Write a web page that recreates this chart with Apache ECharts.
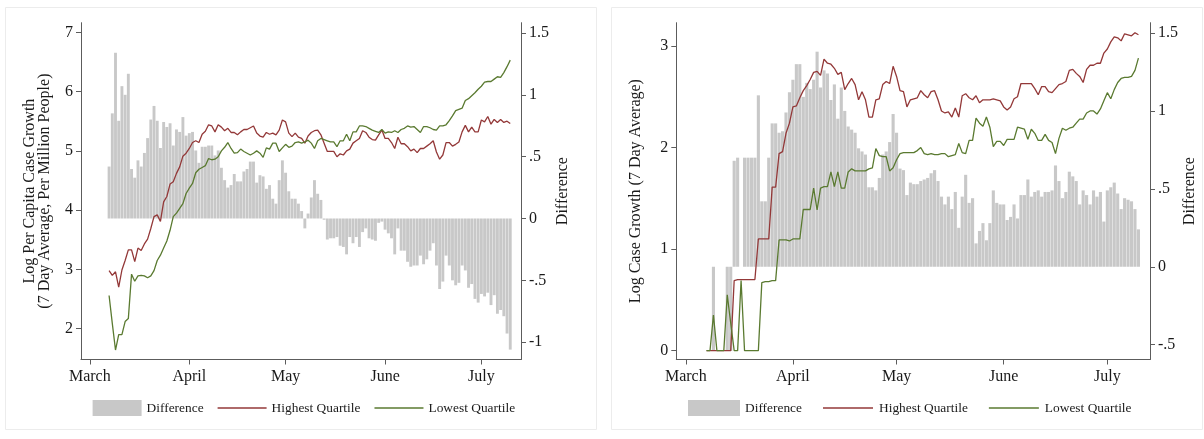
<!DOCTYPE html>
<html>
<head>
<meta charset="utf-8">
<title>Case growth by quartile</title>
<script src="https://cdn.jsdelivr.net/npm/echarts@6/dist/echarts.min.js"></script>
<style>
  html, body { margin: 0; padding: 0; background: #ffffff; }
  #chart { width: 1204px; height: 439px; }
</style>
</head>
<body>
<div id="chart"></div>
<script>
// Daily series, one value per day starting on firstDay
const firstDay = '2020-03-07';
const monthTicks = ['2020-03-01', '2020-04-01', '2020-05-01', '2020-06-01', '2020-07-01'];
const monthLabels = ['March', 'April', 'May', 'June', 'July'];

// Left panel: log per capita case growth (7 day average, per million people)
const perCapitaHighest = [
  2.98, 2.90, 2.96, 2.70, 2.99, 3.15, 3.33, 3.33, 3.13, 3.36, 3.32, 3.43, 3.51, 3.69, 3.89, 3.92, 3.81,
  4.14, 4.23, 4.44, 4.48, 4.62, 4.73, 4.91, 4.96, 5.04, 5.14, 5.17, 5.14, 5.28, 5.33, 5.44, 5.42,
  5.32, 5.44, 5.40, 5.34, 5.38, 5.31, 5.31, 5.27, 5.32, 5.36, 5.36, 5.39, 5.42, 5.30, 5.25, 5.23, 5.31,
  5.28, 5.30, 5.27, 5.35, 5.52, 5.49, 5.30, 5.24, 5.30, 5.23, 5.21, 5.13, 5.25, 5.31, 5.34, 5.35, 5.27,
  5.13, 4.99, 4.99,
  4.99, 4.90, 4.95, 4.93, 5.00, 5.03, 5.13, 5.17, 5.21, 5.34, 5.31, 5.23, 5.19, 5.18, 5.27, 5.35, 5.21,
  5.21, 5.14, 5.04, 5.23, 5.12, 5.12, 5.07, 5.00, 5.03, 4.97, 5.04, 5.04, 5.08, 5.12, 5.17, 4.98, 4.86,
  4.93, 5.14, 5.14, 5.08,
  5.11, 5.15, 5.32, 5.43, 5.32, 5.40, 5.32, 5.32, 5.52, 5.49, 5.58, 5.45, 5.53, 5.48, 5.53, 5.48, 5.50, 5.46
];
const perCapitaLowest = [
  2.56, 2.09, 1.64, 1.90, 1.90, 2.12, 2.17, 2.92, 2.80, 2.89, 2.90, 2.89, 2.86, 2.89, 2.98, 3.15, 3.24,
  3.36, 3.48, 3.66, 3.89, 3.95, 4.03, 4.11, 4.28, 4.37, 4.45, 4.63, 4.69, 4.72, 4.75, 4.87, 4.85,
  4.86, 4.90, 5.00, 5.06, 5.14, 5.04, 4.96, 4.97, 5.03, 4.99, 4.96, 4.93, 4.96, 5.00, 4.96, 4.89, 5.05,
  5.03, 5.13, 5.13, 4.99, 5.05, 5.11, 5.06, 5.08, 5.14, 5.15, 5.13, 5.15, 5.18, 5.13, 5.04, 5.17, 5.21,
  5.19, 5.17, 5.15,
  5.15, 5.07, 5.17, 5.17, 5.28, 5.17, 5.32, 5.32, 5.42, 5.42, 5.41, 5.38, 5.35, 5.33, 5.31, 5.36, 5.30,
  5.32, 5.31, 5.34, 5.31, 5.36, 5.38, 5.42, 5.40, 5.41, 5.36, 5.31, 5.41, 5.41, 5.39, 5.36, 5.35, 5.42,
  5.42, 5.44, 5.51, 5.59,
  5.68, 5.70, 5.72, 5.85, 5.88, 5.93, 5.98, 6.04, 6.09, 6.16, 6.17, 6.17, 6.21, 6.25, 6.24, 6.32, 6.42, 6.53
];
const perCapitaDifference = [
  0.42, 0.85, 1.34, 0.79, 1.07, 1.00, 1.17, 0.40, 0.33, 0.47, 0.42, 0.53, 0.65, 0.80, 0.91, 0.79, 0.57,
  0.78, 0.74, 0.77, 0.59, 0.72, 0.70, 0.82, 0.67, 0.69, 0.70, 0.55, 0.45, 0.58, 0.58,
  0.59, 0.59, 0.51, 0.55, 0.41, 0.31, 0.25, 0.27, 0.36, 0.30, 0.30, 0.38, 0.40, 0.46, 0.46, 0.29, 0.35,
  0.34, 0.24, 0.27, 0.16, 0.12, 0.31, 0.47, 0.37, 0.22, 0.16, 0.16, 0.12, 0.06, -0.08, 0.04, 0.17, 0.31,
  0.20, 0.15, -0.01, -0.17, -0.16,
  -0.16, -0.15, -0.22, -0.23, -0.29, -0.15, -0.20, -0.15, -0.23, -0.11, -0.08, -0.16, -0.17, -0.18,
  -0.035, -0.025, -0.09, -0.12, -0.16, -0.29, -0.08, -0.26, -0.26, -0.35, -0.39, -0.38, -0.38, -0.30,
  -0.37, -0.33, -0.26, -0.20, -0.38, -0.57, -0.51, -0.30, -0.38, -0.50,
  -0.54, -0.52, -0.38, -0.42, -0.56, -0.53, -0.65, -0.68, -0.61, -0.63, -0.60, -0.70, -0.62, -0.77,
  -0.74, -0.79, -0.93, -1.06
];

// Right panel: log case growth (7 day average)
const caseHighest = [
  0, 0, 0, 0, 0, 0, 0, 0,
  0.69, 0.70, 0.70, 0.70, 0.70, 0.70, 0.70,
  1.10, 1.10, 1.10, 1.10, 1.61, 1.61, 1.94, 1.96, 2.14, 2.24, 2.40, 2.41, 2.49, 2.56, 2.61, 2.67,
  2.74, 2.75, 2.71, 2.87, 2.83, 2.82, 2.78, 2.72, 2.74, 2.57, 2.63, 2.68, 2.62, 2.47, 2.55, 2.47, 2.30,
  2.30, 2.47, 2.48, 2.62, 2.65, 2.63, 2.80, 2.70, 2.56, 2.55, 2.40, 2.47, 2.48, 2.49, 2.56, 2.52, 2.49,
  2.55, 2.56, 2.47,
  2.36, 2.34, 2.35, 2.30, 2.39, 2.30, 2.51, 2.53, 2.49, 2.47, 2.51, 2.44, 2.47, 2.47, 2.47, 2.48, 2.47,
  2.46, 2.40, 2.37, 2.40, 2.48, 2.50, 2.63, 2.63, 2.63, 2.63, 2.58, 2.52, 2.60, 2.60, 2.55, 2.54, 2.58,
  2.62, 2.63, 2.65, 2.76, 2.77,
  2.73, 2.70, 2.64, 2.77, 2.81, 2.81, 2.83, 2.83, 2.93, 2.97, 3.04, 3.09, 3.08, 3.05, 3.12, 3.11, 3.10,
  3.13, 3.11
];
const caseLowest = [
  0, 0, 0.35, 0, 0, 0, 0.55, 0.27, 0, 0, 0.69, 0, 0, 0, 0, 0,
  0.67, 0.68, 0.68, 0.69, 0.69, 1.09, 1.09, 1.09, 1.08, 1.10, 1.10, 1.10, 1.39, 1.39, 1.39,
  1.60, 1.385, 1.60, 1.615, 1.615, 1.76, 1.615, 1.76, 1.60, 1.60, 1.76, 1.79, 1.77, 1.77, 1.77, 1.77,
  1.79, 1.80, 1.99, 1.92, 1.91, 1.91, 1.77, 1.80, 1.88, 1.94, 1.95, 1.95, 1.95, 1.95, 1.97, 2.00, 1.94,
  1.93, 1.94, 1.93, 1.93,
  1.94, 1.94, 1.91, 1.92, 1.93, 2.04, 1.95, 1.94, 2.07, 2.07, 2.29, 2.24, 2.21, 2.30, 2.20, 2.01, 2.06,
  2.06, 2.02, 2.08, 2.08, 2.08, 2.20, 2.19, 2.18, 2.08, 2.18, 2.14, 2.07, 2.07, 2.13, 2.07, 2.05, 1.94,
  2.09, 2.19, 2.17, 2.19, 2.20,
  2.24, 2.28, 2.28, 2.34, 2.36, 2.36, 2.33, 2.38, 2.46, 2.54, 2.48, 2.57, 2.64, 2.68, 2.69, 2.69, 2.70,
  2.76, 2.88
];
const caseDifference = [
  0, 0, -0.54, 0, 0, 0, -0.54, -0.54, 0.68, 0.70, 0, 0.70, 0.70, 0.70, 0.70, 1.10,
  0.42, 0.42, 0.70, 0.92, 0.92, 0.86, 0.87, 0.99, 1.12, 1.20, 1.30, 1.30, 1.09, 1.18, 1.14,
  1.20, 1.38, 1.15, 1.26, 1.24, 1.07, 1.17, 0.95, 1.15, 1.00, 0.90, 0.88, 0.86, 0.76, 0.74, 0.72, 0.51,
  0.51, 0.49, 0.57, 0.72, 0.74, 0.80, 0.98, 0.86, 0.63, 0.62, 0.46, 0.54, 0.53, 0.53, 0.55, 0.56, 0.57,
  0.60, 0.62, 0.55,
  0.45, 0.40, 0.45, 0.37, 0.48, 0.25, 0.45, 0.59, 0.41, 0.44, 0.15, 0.23, 0.28, 0.17, 0.28, 0.49, 0.41,
  0.40, 0.40, 0.30, 0.32, 0.40, 0.31, 0.46, 0.46, 0.56, 0.45, 0.48, 0.49, 0.45, 0.48, 0.48, 0.49, 0.65,
  0.55, 0.44, 0.48, 0.61, 0.58,
  0.55, 0.40, 0.49, 0.46, 0.40, 0.49, 0.45, 0.48, 0.29, 0.49, 0.51, 0.54, 0.47, 0.37, 0.44, 0.43, 0.42,
  0.37, 0.24
];

// Tick positions on the value axes
const perCapitaTicks = [2, 3, 4, 5, 6, 7];
const perCapitaDiffTicks = [-1, -0.5, 0, 0.5, 1, 1.5];
const caseTicks = [0, 1, 2, 3];
const caseDiffTicks = [-0.5, 0, 0.5, 1, 1.5];

// The x axis counts days from the first month tick (1 March)
const DAY = 86400000;
const utc = s => Date.parse(s + 'T00:00:00Z');
const origin = utc(monthTicks[0]);
const dayOf = s => Math.round((utc(s) - origin) / DAY);
const startDay = dayOf(firstDay);
const monthDays = monthTicks.map(dayOf);
const xMin = -2.75;
const xMax = 134.35;

const pairs = values => values.map((v, i) => [startDay + i, v]);

const serif = "'Liberation Serif', 'DejaVu Serif', serif";
const ink = '#1a1a1a';
const axisColor = '#5c5c5c';
const red = '#933838';
const green = '#5a7a30';
const barGray = '#c8c8c8';

// Legend key for the lines: a thin horizontal stroke centred in a 50x16 box
const lineKey = 'path://M0,0M0,7.35L50,7.35L50,8.65L0,8.65ZM50,16';

const stataNum = v => {
  if (Math.abs(v) < 1e-9) return '0';
  return String(v).replace(/^(-?)0\./, '$1.');
};

function monthLabel(v) {
  let best = 0;
  for (let i = 1; i < monthDays.length; i++) {
    if (Math.abs(monthDays[i] - v) < Math.abs(monthDays[best] - v)) best = i;
  }
  return monthLabels[best];
}

function xAxis(gridIndex) {
  return {
    type: 'value', gridIndex, min: xMin, max: xMax,
    axisLine: { show: true, onZero: false, lineStyle: { color: axisColor, width: 1 } },
    axisTick: { show: true, customValues: monthDays, length: 5, lineStyle: { color: axisColor } },
    axisLabel: {
      customValues: monthDays, formatter: monthLabel, fontSize: 16, color: ink,
      fontFamily: serif, margin: 9, hideOverlap: false
    },
    splitLine: { show: false }
  };
}

function yAxis(gridIndex, position, min, max, ticks, name, nameGap, fmt) {
  return {
    type: 'value', gridIndex, position, min, max,
    name, nameLocation: 'middle', nameGap, nameRotate: 90,
    nameTextStyle: { fontSize: 16, color: ink, fontFamily: serif, lineHeight: 15 },
    axisLine: { show: true, onZero: false, lineStyle: { color: axisColor, width: 1 } },
    axisTick: { show: true, customValues: ticks, length: 5, lineStyle: { color: axisColor } },
    axisLabel: { customValues: ticks, formatter: fmt, fontSize: 16, color: ink, fontFamily: serif, margin: 8 },
    splitLine: { show: false }
  };
}

function barSeries(x, y, values) {
  return {
    name: 'Difference', type: 'bar', xAxisIndex: x, yAxisIndex: y,
    data: pairs(values), barWidth: '90%', itemStyle: { color: barGray },
    silent: true, z: 1
  };
}

function lineSeries(name, x, y, values, color) {
  return {
    name, type: 'line', xAxisIndex: x, yAxisIndex: y, data: pairs(values),
    symbol: 'none', showSymbol: false, lineStyle: { color, width: 1.3 },
    itemStyle: { color }, silent: true, z: 3
  };
}

function legend(left, itemWidth, itemGap) {
  return {
    left, top: 400, orient: 'horizontal', padding: 0,
    itemWidth, itemHeight: 16, itemGap,
    textStyle: { fontSize: 13.4, color: ink, fontFamily: serif },
    selectedMode: false,
    data: [
      { name: 'Difference', icon: 'rect', itemStyle: { color: barGray, borderWidth: 0 } },
      { name: 'Highest Quartile', icon: lineKey, itemStyle: { color: red, borderWidth: 0 } },
      { name: 'Lowest Quartile', icon: lineKey, itemStyle: { color: green, borderWidth: 0 } }
    ]
  };
}

const option = {
  animation: false,
  backgroundColor: '#ffffff',
  textStyle: { fontFamily: serif },
  graphic: [
    { type: 'rect', shape: { x: 5.5, y: 7.5, width: 591, height: 422 },
      style: { fill: 'none', stroke: '#ececec', lineWidth: 1 }, silent: true, z: -1 },
    { type: 'rect', shape: { x: 611.5, y: 7.5, width: 591, height: 422 },
      style: { fill: 'none', stroke: '#ececec', lineWidth: 1 }, silent: true, z: -1 }
  ],
  grid: [
    { left: 81, right: 683, top: 22.7, bottom: 79.5 },
    { left: 676.3, right: 54, top: 22.7, bottom: 79.5 }
  ],
  legend: [legend(92.6, 49, 14), legend(688, 52, 21)],
  xAxis: [xAxis(0), xAxis(1)],
  yAxis: [
    yAxis(0, 'left', 1.48, 7.162, perCapitaTicks,
      'Log Per Capita Case Growth\n(7 Day Average, Per Million People)', 29, v => String(v)),
    yAxis(0, 'right', -1.14, 1.583, perCapitaDiffTicks, 'Difference', 34, stataNum),
    yAxis(1, 'left', -0.087, 3.229, caseTicks, 'Log Case Growth (7 Day Average)', 33, v => String(v)),
    yAxis(1, 'right', -0.595, 1.566, caseDiffTicks, 'Difference', 32, stataNum)
  ],
  series: [
    barSeries(0, 1, perCapitaDifference),
    lineSeries('Highest Quartile', 0, 0, perCapitaHighest, red),
    lineSeries('Lowest Quartile', 0, 0, perCapitaLowest, green),
    barSeries(1, 3, caseDifference),
    lineSeries('Highest Quartile', 1, 2, caseHighest, red),
    lineSeries('Lowest Quartile', 1, 2, caseLowest, green)
  ]
};

const chart = echarts.init(document.getElementById('chart'), null, { renderer: 'canvas' });
chart.setOption(option);
</script>
</body>
</html>
